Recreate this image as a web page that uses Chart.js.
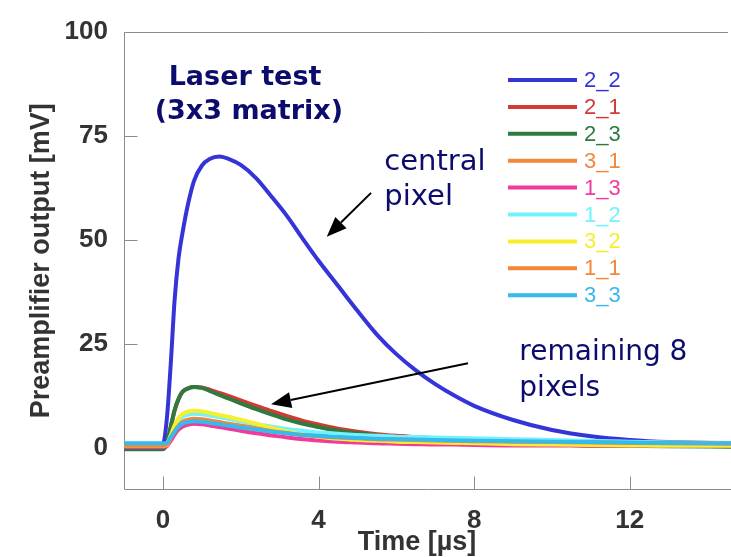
<!DOCTYPE html>
<html>
<head>
<meta charset="utf-8">
<script src="https://cdn.jsdelivr.net/npm/chart.js@4.4.1/dist/chart.umd.min.js"></script>
<style>
  html, body { margin: 0; padding: 0; background: #fff; }
  #wrap { width: 731px; height: 557px; }
</style>
</head>
<body>
<div id="wrap"><canvas id="chart" width="731" height="557"></canvas></div>
<script>
// Sampling times of the recorded waveforms [µs]
const timeUs = [-1, -0.5, 0, 0.1, 0.2, 0.3, 0.4, 0.5, 0.65, 0.8, 1.0, 1.2, 1.45, 1.7, 2.0, 2.4, 2.8, 3.2, 3.6, 4.0, 4.5, 5.0, 5.5, 6.0, 6.5, 7.0, 7.5, 8.0, 9, 10, 11, 12, 13, 14.6];

// Preamplifier output of each pixel of the 3x3 matrix [mV]
const pix22 = [0.8, 0.8, 1.0, 7, 20, 35.5, 45.5, 51.5, 58.8, 64.2, 67.8, 69.4, 70.0, 69.4, 68.0, 64.8, 60.3, 55.6, 50.2, 45.0, 39.0, 33.0, 27.3, 22.6, 18.7, 15.4, 12.6, 10.2, 6.8, 4.4, 2.9, 2.0, 1.5, 1.2];
const pix21 = [0.5, 0.5, 0.5, 1.2, 5.0, 9.0, 11.8, 13.5, 14.4, 14.7, 14.6, 14.1, 13.3, 12.5, 11.5, 10.2, 8.9, 7.7, 6.6, 5.7, 4.7, 4.0, 3.4, 3.0, 2.7, 2.4, 2.2, 2.0, 1.6, 1.3, 1.1, 1.0, 0.9, 0.8];
const pix23 = [-0.2, -0.2, -0.2, 1.0, 5.2, 9.2, 11.8, 13.5, 14.4, 14.7, 14.5, 13.8, 12.8, 11.9, 10.8, 9.4, 8.1, 6.9, 5.9, 5.1, 4.2, 3.6, 3.1, 2.7, 2.3, 2.0, 1.8, 1.6, 1.2, 0.9, 0.7, 0.6, 0.5, 0.4];
const pix31 = [0.7, 0.7, 0.7, 1.0, 2.6, 4.3, 5.6, 6.4, 6.9, 7.1, 7.0, 6.7, 6.3, 5.9, 5.5, 4.9, 4.3, 3.8, 3.4, 3.1, 2.8, 2.6, 2.4, 2.3, 2.2, 2.1, 2.0, 1.9, 1.8, 1.7, 1.6, 1.5, 1.4, 1.3];
const pix13 = [0.3, 0.3, 0.3, 0.5, 1.8, 3.3, 4.5, 5.2, 5.7, 5.9, 5.8, 5.5, 5.1, 4.7, 4.2, 3.6, 3.1, 2.6, 2.2, 1.9, 1.6, 1.4, 1.2, 1.1, 1.0, 0.9, 0.9, 0.8, 0.7, 0.7, 0.6, 0.6, 0.6, 0.6];
const pix12 = [1.0, 1.0, 1.0, 1.2, 3.0, 5.2, 6.7, 7.6, 8.1, 8.3, 8.2, 7.9, 7.5, 7.0, 6.5, 5.8, 5.2, 4.6, 4.2, 3.8, 3.5, 3.2, 3.0, 2.8, 2.7, 2.6, 2.5, 2.4, 2.2, 2.0, 1.8, 1.6, 1.4, 1.2];
const pix32 = [0.6, 0.6, 0.6, 0.8, 3.0, 5.5, 7.2, 8.2, 8.8, 9.0, 8.9, 8.5, 8.0, 7.5, 6.9, 5.9, 4.9, 4.0, 3.3, 2.8, 2.3, 2.0, 1.8, 1.6, 1.5, 1.4, 1.3, 1.2, 1.0, 0.9, 0.8, 0.7, 0.6, 0.6];
const pix11 = [0.6, 0.6, 0.6, 0.9, 2.4, 4.1, 5.4, 6.2, 6.7, 6.9, 6.8, 6.5, 6.1, 5.7, 5.3, 4.7, 4.1, 3.6, 3.2, 2.9, 2.6, 2.4, 2.2, 2.1, 2.0, 1.9, 1.8, 1.7, 1.6, 1.5, 1.4, 1.3, 1.2, 1.1];
const pix33 = [1.2, 1.2, 1.2, 1.3, 2.6, 4.0, 5.2, 5.9, 6.3, 6.5, 6.4, 6.1, 5.8, 5.4, 5.0, 4.5, 4.0, 3.6, 3.2, 3.0, 2.7, 2.5, 2.3, 2.2, 2.1, 2.0, 1.9, 1.8, 1.7, 1.6, 1.5, 1.4, 1.3, 1.2];

// Series names (row_column), in plotting order
const pixelNames = ['2_2', '2_1', '2_3', '3_1', '1_3', '1_2', '3_2', '1_1', '3_3'];
const pixelSeries = [pix22, pix21, pix23, pix31, pix13, pix12, pix32, pix11, pix33];
const pixelColors = ['#3434d8', '#d23a34', '#2f7a40', '#f3883c', '#f03a9c', '#72f2ff', '#f6ef2e', '#f3883c', '#36b9ec'];

// Axis ticks
const xTickValues = [0, 4, 8, 12];
const yTickValues = [0, 25, 50, 75, 100];

const NOTE_COLOR = '#0c0c6c';
const AXIS_FONT = '"Liberation Sans", Arial, sans-serif';
const NOTE_FONT = '"DejaVu Sans", sans-serif';

function drawArrow(ctx, x0, y0, x1, y1) {
  const ang = Math.atan2(y1 - y0, x1 - x0);
  const headLen = 20, headHalf = 8;
  const bx = x1 - headLen * Math.cos(ang), by = y1 - headLen * Math.sin(ang);
  ctx.beginPath();
  ctx.moveTo(x0, y0);
  ctx.lineTo(bx, by);
  ctx.lineWidth = 2;
  ctx.strokeStyle = '#000';
  ctx.stroke();
  ctx.beginPath();
  ctx.moveTo(x1, y1);
  ctx.lineTo(bx + headHalf * Math.sin(ang), by - headHalf * Math.cos(ang));
  ctx.lineTo(bx - headHalf * Math.sin(ang), by + headHalf * Math.cos(ang));
  ctx.closePath();
  ctx.fillStyle = '#000';
  ctx.fill();
}

// Frame, inward tick marks, axis titles, notes and the in-plot legend
const decorPlugin = {
  id: 'decor',
  beforeDatasetsDraw(chart) {
    const { ctx, chartArea: a, scales: { x, y } } = chart;
    ctx.save();
    ctx.strokeStyle = '#8c8c8c';
    ctx.lineWidth = 1;
    ctx.beginPath();
    const L = Math.round(a.left) + 0.5, T = Math.round(a.top) + 0.5, B = Math.round(a.bottom) - 0.5;
    ctx.moveTo(a.right - 3, T); ctx.lineTo(L, T); ctx.lineTo(L, B); ctx.lineTo(a.right, B);
    yTickValues.forEach(v => {
      const py = Math.round(y.getPixelForValue(v)) + 0.5;
      ctx.moveTo(L, py); ctx.lineTo(L + 13, py);
    });
    xTickValues.forEach(v => {
      const px = Math.round(x.getPixelForValue(v)) + 0.5;
      ctx.moveTo(px, B); ctx.lineTo(px, B - 13);
    });
    ctx.stroke();
    ctx.restore();
  },
  afterDraw(chart) {
    const { ctx, chartArea: a, scales: { x, y } } = chart;
    ctx.save();

    // Axis titles
    ctx.fillStyle = '#333';
    ctx.font = 'bold 27px ' + AXIS_FONT;
    ctx.textAlign = 'center';
    ctx.textBaseline = 'middle';
    ctx.fillText('Time [µs]', 417, 543);
    ctx.save();
    ctx.translate(42, (a.top + a.bottom) / 2);
    ctx.rotate(-Math.PI / 2);
    ctx.fillText('Preamplifier output [mV]', 0, 0);
    ctx.restore();

    // Notes
    const X = v => x.getPixelForValue(v), Y = v => y.getPixelForValue(v);
    ctx.fillStyle = NOTE_COLOR;
    ctx.textBaseline = 'alphabetic';
    ctx.textAlign = 'center';
    ctx.font = 'bold 27px ' + NOTE_FONT;
    ctx.fillText('Laser test', X(2.11), Y(87.3));
    ctx.fillText('(3x3 matrix)', X(2.21), Y(79.1));
    ctx.textAlign = 'left';
    ctx.font = '29px ' + NOTE_FONT;
    ctx.fillText('central', X(5.69), Y(66.8));
    ctx.fillText('pixel', X(5.69), Y(58.4));
    ctx.font = '28px ' + NOTE_FONT;
    ctx.fillText('remaining 8', X(9.16), Y(21.2));
    ctx.fillText('pixels', X(9.16), Y(12.5));

    // Arrows
    drawArrow(ctx, X(5.35), Y(61.3), X(4.21), Y(50.8));
    drawArrow(ctx, X(7.84), Y(20.4), X(2.78), Y(10.6));

    // Legend
    ctx.font = '22px ' + AXIS_FONT;
    ctx.textAlign = 'left';
    ctx.textBaseline = 'middle';
    chart.data.datasets.forEach((ds, i) => {
      const ly = 80 + i * 26.9;
      ctx.beginPath();
      ctx.moveTo(508, ly);
      ctx.lineTo(577, ly);
      ctx.lineWidth = 4;
      ctx.strokeStyle = ds.borderColor;
      ctx.stroke();
      ctx.fillStyle = ds.borderColor;
      ctx.fillText(ds.label, 584, ly + 1);
    });
    ctx.restore();
  }
};

new Chart(document.getElementById('chart'), {
  type: 'line',
  data: {
    datasets: pixelNames.map((name, i) => ({
      label: name,
      data: timeUs.map((t, k) => ({ x: t, y: pixelSeries[i][k] })),
      borderColor: pixelColors[i],
      backgroundColor: pixelColors[i],
      borderWidth: 4,
      pointRadius: 0,
      cubicInterpolationMode: 'monotone',
      fill: false,
      order: pixelNames.length - 1 - i
    }))
  },
  options: {
    responsive: false,
    animation: false,
    devicePixelRatio: 1,
    layout: { padding: { top: 24, left: 0, right: 0, bottom: 0 } },
    plugins: { legend: { display: false }, tooltip: { enabled: false } },
    scales: {
      x: {
        type: 'linear', min: -1, max: 14.6,
        afterBuildTicks: s => { s.ticks = xTickValues.map(v => ({ value: v })); },
        afterFit: s => { s.height = 67; },
        grid: { display: false, drawTicks: false },
        border: { display: false },
        ticks: { padding: 15, color: '#333', font: { family: AXIS_FONT, size: 26, weight: 'bold' } }
      },
      y: {
        type: 'linear', min: -10, max: 100,
        afterBuildTicks: s => { s.ticks = yTickValues.map(v => ({ value: v })); },
        afterFit: s => { s.width = 124; },
        grid: { display: false, drawTicks: false },
        border: { display: false },
        ticks: { padding: 16, color: '#333', font: { family: AXIS_FONT, size: 26, weight: 'bold' } }
      }
    }
  },
  plugins: [decorPlugin]
});
</script>
</body>
</html>
